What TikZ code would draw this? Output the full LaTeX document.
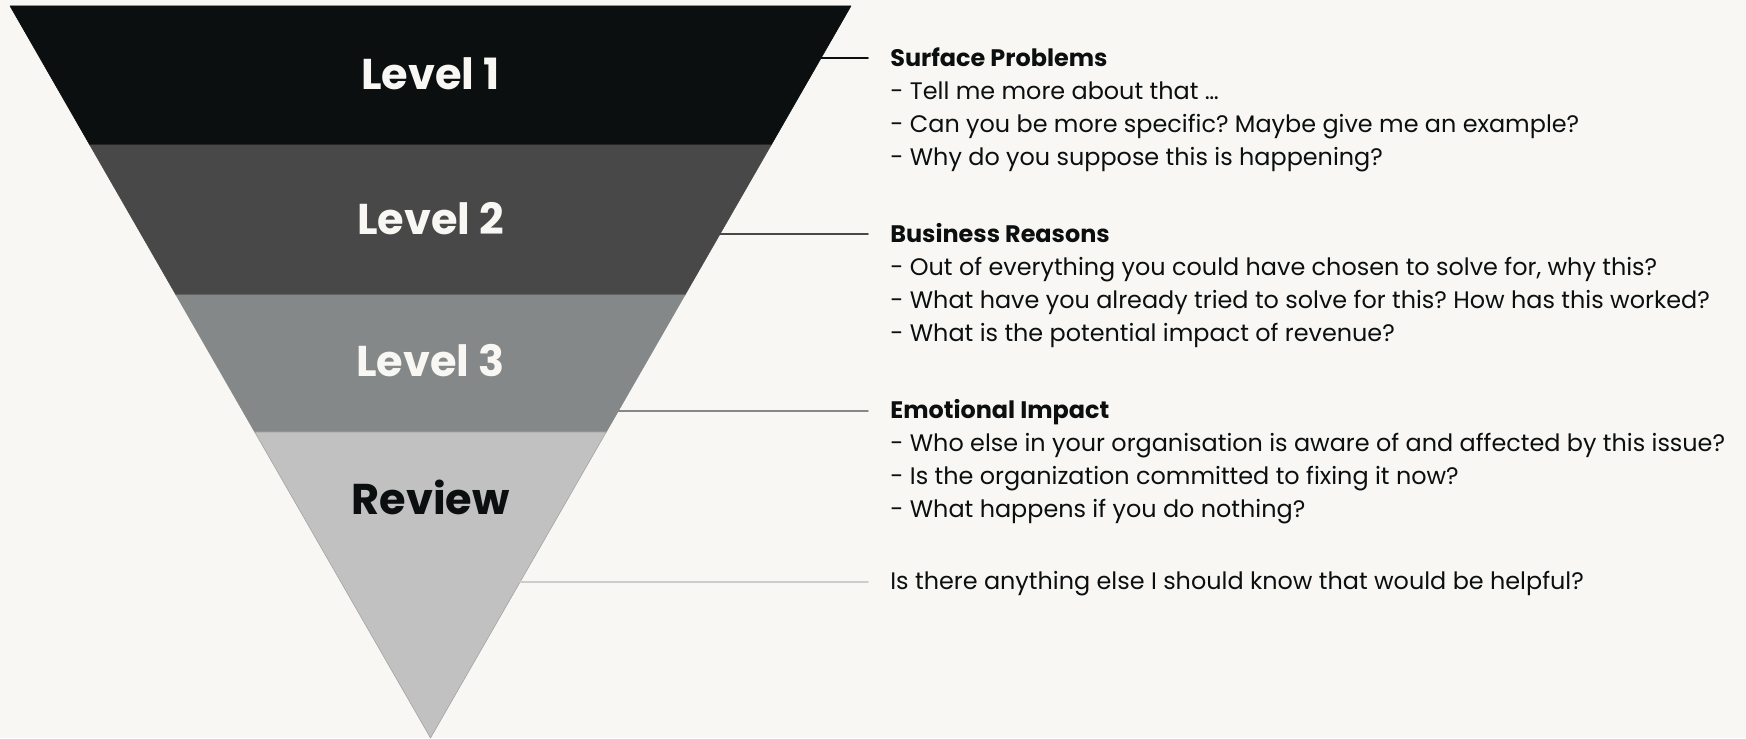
\documentclass[tikz,border=0pt]{standalone}
\usepackage{fontspec}
\setmainfont{Poppins}
\usepackage{tkz-euclide}
\frenchspacing

\definecolor{paper}{HTML}{F8F7F4}
\definecolor{ink}{HTML}{0B0F0F}
\definecolor{lvlone}{HTML}{0B0F0F}
\definecolor{lvltwo}{HTML}{484848}
\definecolor{lvlthree}{HTML}{858888}
\definecolor{lvlreview}{HTML}{C1C1C1}
\definecolor{linereview}{HTML}{CCCCCC}

\tikzset{
  lvltext/.style={font=\fontsize{24.5}{29}\selectfont\bfseries, text=paper, anchor=base, inner sep=0pt},
  headtext/.style={font=\fontsize{13.6}{16}\selectfont\bfseries, text=ink, anchor=base west, inner sep=0pt},
  linetext/.style={font=\fontsize{13.6}{16}\selectfont, text=ink, anchor=base west, inner sep=0pt},
}

\begin{document}
\begin{tikzpicture}[scale=2]
        \fill[paper] (0,0) rectangle (17.46,7.38);

        % funnel corners
        \tkzDefPoint(0.10, 7.32){A};
        \tkzDefPoint(8.51, 7.32){B};
        \tkzDefPoint(7.712, 5.93){C};
        \tkzDefPoint(0.898, 5.93){D};
        \tkzDefPoint(6.850, 4.43){E};
        \tkzDefPoint(1.760, 4.43){F};
        \tkzDefPoint(6.063, 3.06){G};
        \tkzDefPoint(2.547, 3.06){H};
        \tkzDefPoint(4.305, 0){O};

        \tkzDrawPolygon[fill=lvlone, draw=lvlone, line width=0.3pt](A,B,C,D);
        \tkzDrawPolygon[fill=lvltwo, draw=lvltwo, line width=0.3pt](D,C,E,F);
        \tkzDrawPolygon[fill=lvlthree, draw=lvlthree, line width=0.3pt](F,E,G,H);
        \tkzDrawPolygon[fill=lvlreview, draw=gray!75, line width=0.3pt](H,G,O);

        % connectors
        \tkzDefPoint(8.2096, 6.797){P1};
        \tkzDefPoint(8.68, 6.797){Q1};
        \tkzDefPoint(7.1985, 5.037){P2};
        \tkzDefPoint(8.68, 5.037){Q2};
        \tkzDefPoint(6.1835, 3.27){P3};
        \tkzDefPoint(8.68, 3.27){Q3};
        \tkzDefPoint(5.1994, 1.557){P4};
        \tkzDefPoint(8.68, 1.557){Q4};

        \tkzDrawSegment[color=lvlone, line width=1pt](P1,Q1);
        \tkzDrawSegment[color=lvltwo, line width=1pt](P2,Q2);
        \tkzDrawSegment[color=lvlthree, line width=1pt](P3,Q3);
        \tkzDrawSegment[color=linereview, line width=1pt](P4,Q4);

        \node[lvltext] (lvlone) at (4.305, 6.48) {Level 1};
        \node[lvltext] (lvltwo) at (4.305, 5.03) {Level 2};
        \node[lvltext] (lvlthree) at (4.305, 3.613) {Level 3};
        \node[lvltext, text=ink] (lvlreview) at (4.305, 2.237) {Review};

        \node[headtext] (sp0) at (8.90, 6.715) {Surface Problems};
        \node[linetext] (sp1) at (8.90, 6.385) {- Tell me more about that …};
        \node[linetext] (sp2) at (8.90, 6.055) {- Can you be more specific? Maybe give me an example?};
        \node[linetext] (sp3) at (8.90, 5.725) {- Why do you suppose this is happening?};

        \node[headtext] (br0) at (8.90, 4.95) {Business Reasons};
        \node[linetext] (br1) at (8.90, 4.62) {- Out of everything you could have chosen to solve for, why this?};
        \node[linetext] (br2) at (8.90, 4.29) {- What have you already tried to solve for this? How has this worked?};
        \node[linetext] (br3) at (8.90, 3.96) {- What is the potential impact of revenue?};

        \node[headtext] (ei0) at (8.90, 3.195) {Emotional Impact};
        \node[linetext] (ei1) at (8.90, 2.865) {- Who else in your organisation is aware of and affected by this issue?};
        \node[linetext] (ei2) at (8.90, 2.535) {- Is the organization committed to fixing it now?};
        \node[linetext] (ei3) at (8.90, 2.205) {- What happens if you do nothing?};

        \node[linetext] (rv0) at (8.90, 1.485) {Is there anything else I should know that would be helpful?};
    \end{tikzpicture}
\end{document}
